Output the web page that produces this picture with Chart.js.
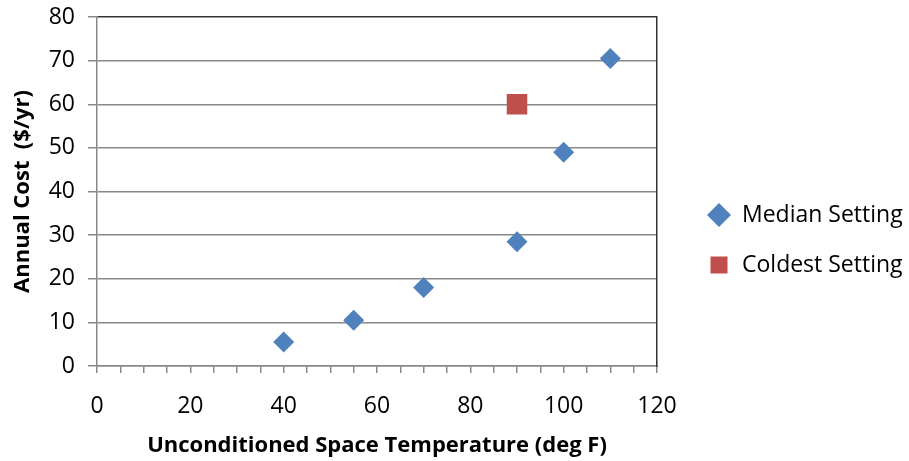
<!DOCTYPE html>
<html>
<head>
<meta charset="utf-8">
<script src="https://cdn.jsdelivr.net/npm/chart.js@4"></script>
<style>
  html, body { margin: 0; padding: 0; background: #fff; }
  #wrap { width: 909px; height: 461px; }
</style>
</head>
<body>
<div id="wrap"><canvas id="chart"></canvas></div>
<script>
// data
const medianTemps = [40, 55, 70, 90, 100, 110];
const medianCosts = [5.5, 10.5, 18, 28.5, 49, 70.5];
const coldestTemps = [90];
const coldestCosts = [60];
const xTickLabels = [0, 20, 40, 60, 80, 100, 120];
const yTickLabels = [0, 10, 20, 30, 40, 50, 60, 70, 80];

const FONT = '"Open Sans", Lato, sans-serif';

// the layout caps a side legend at a fraction of the width, so widen it after fit
const legendWidth = {
  id: 'legendWidth',
  beforeLayout(chart) {
    const legend = chart.legend;
    if (!legend || legend._widened) return;
    const fit = legend.fit;
    legend.fit = function () {
      fit.call(this);
      this.width = 224.5;
    };
    legend._widened = true;
  }
};

function drawChart() {
  const ctx = document.getElementById('chart').getContext('2d');
  new Chart(ctx, {
    type: 'scatter',
    data: {
      datasets: [{
        label: 'Median Setting',
        data: medianTemps.map((t, i) => ({ x: t, y: medianCosts[i] })),
        pointStyle: 'rectRot',
        pointRadius: 10.5,
        backgroundColor: '#4F81BD',
        borderColor: '#4F81BD',
        borderWidth: 0
      }, {
        label: 'Coldest Setting',
        data: coldestTemps.map((t, i) => ({ x: t, y: coldestCosts[i] })),
        pointStyle: 'rect',
        pointRadius: 14.5,
        backgroundColor: '#C0504D',
        borderColor: '#C0504D',
        borderWidth: 0
      }]
    },
    options: {
      responsive: true,
      maintainAspectRatio: false,
      animation: false,
      layout: { padding: { top: 4, right: 4, left: 4, bottom: 2 } },
      plugins: {
        tooltip: { enabled: false },
        legend: {
          position: 'right',
          title: { display: true, text: '', font: { size: 10 }, padding: 2.5 },
          labels: {
            usePointStyle: true,
            boxHeight: 17,
            padding: 27,
            color: '#000',
            font: { family: FONT, size: 23 }
          }
        }
      },
      scales: {
        x: {
          type: 'linear',
          min: 0,
          max: 120,
          afterFit: axis => { axis.height = 93; },
          ticks: {
            stepSize: 5,
            autoSkip: false,
            maxRotation: 0,
            color: '#000',
            padding: 20,
            font: { family: FONT, size: 23 },
            callback: v => xTickLabels.includes(v) ? String(v) : ''
          },
          grid: {
            drawOnChartArea: false,
            drawTicks: true,
            tickLength: 7,
            tickColor: '#888',
            lineWidth: 1.5
          },
          border: { color: '#888', width: 1.5 },
          title: {
            display: true,
            text: 'Unconditioned Space Temperature (deg F)',
            color: '#000',
            font: { family: FONT, size: 22, weight: 'bold' },
            padding: { top: 0, bottom: 0 }
          }
        },
        y: {
          min: 0,
          max: 80,
          afterFit: axis => { axis.width = 93; axis.paddingTop = 17; },
          afterBuildTicks: axis => { axis.ticks = yTickLabels.map(v => ({ value: v })); },
          ticks: {
            color: '#000',
            padding: 13,
            font: { family: FONT, size: 23 }
          },
          grid: {
            color: c => c.tick && c.tick.value === 80 ? '#333' : '#888',
            lineWidth: 1.5,
            tickLength: 9,
            tickColor: '#888'
          },
          border: { color: '#888', width: 1.5 },
          title: {
            display: true,
            text: 'Annual Cost  ($/yr)',
            color: '#000',
            font: { family: FONT, size: 22, weight: 'bold' },
            padding: { top: 6, bottom: 0 }
          }
        },
        // right edge of the plot box, also keeps the gap before the legend
        y2: {
          position: 'right',
          min: 0,
          max: 80,
          afterFit: axis => { axis.width = 23.5; },
          ticks: { display: false },
          grid: { drawOnChartArea: false, drawTicks: false },
          border: { color: '#333', width: 1.5 }
        }
      }
    },
    plugins: [legendWidth]
  });
}

// wait for the fonts so the legend is measured with the right widths
Promise.all([
  document.fonts.load('23px "Open Sans"'),
  document.fonts.load('bold 22px "Open Sans"')
]).then(drawChart, drawChart);
</script>
</body>
</html>
